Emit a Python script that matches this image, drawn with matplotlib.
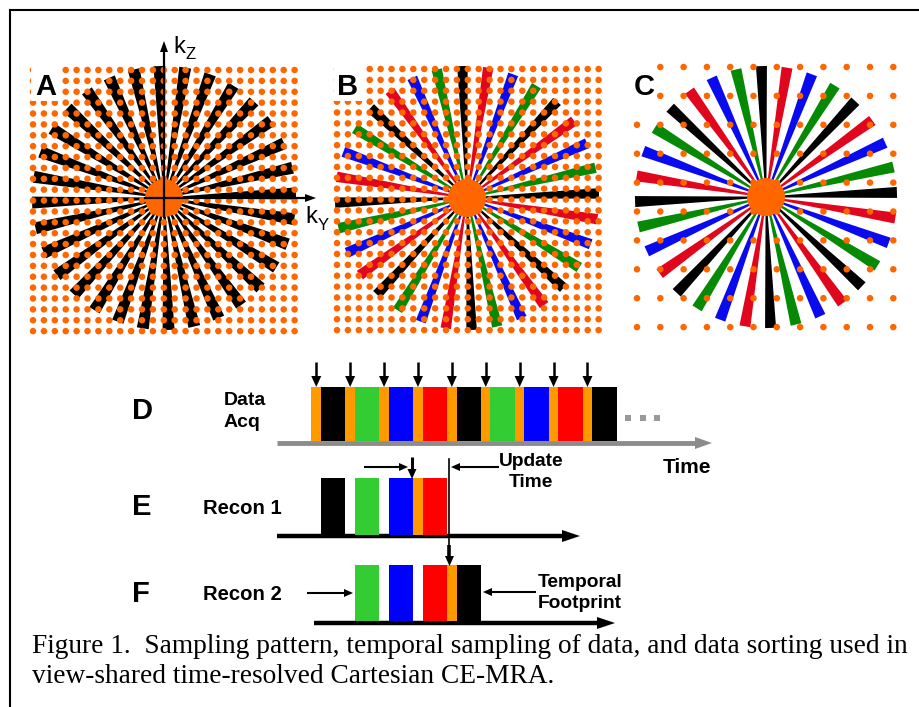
import numpy as np
import matplotlib.pyplot as plt
from matplotlib.patches import Polygon, Circle, Rectangle

W, H = 920, 707

# k-space sampling panels
n_spokes = 32
spoke_phase = 2.0
spoke_cycle = ['black', 'green', 'blue', 'red']
panel_letters = ['A', 'B', 'C']
panel_centers = [(164, 198), (467, 198), (766, 197)]
panel_radius = [132, 132, 131]
panel_spoke_width = [12, 10.5, 11]
panel_multicolor = [False, True, True]
# dot grids: (x0, y0, dx, dy, ncols, nrows)
dot_grids = [(33, 70, 10.9, 10.88, 25, 25),
             (337, 69, 10.9, 10.88, 25, 25),
             (637, 67, 23.3, 28.9, 12, 10)]

# temporal sampling rows
acq_colors = ['black', 'green', 'blue', 'red', 'black', 'green', 'blue', 'red', 'black']
recon1_segments = [0, 1, 2, 3]
recon1_orange = [False, False, False, True]
recon2_segments = [1, 2, 3, 4]
recon2_orange = [False, False, False, True]

caption = ["Figure 1.  Sampling pattern, temporal sampling of data, and data sorting used in",
           "view-shared time-resolved Cartesian CE-MRA."]

ORANGE = '#ff6600'
AMBER = '#ff9900'
spoke_rgb = {'black': '#000000', 'green': '#068a06', 'blue': '#0a0aee', 'red': '#e0061e'}
bar_rgb = {'black': '#000000', 'green': '#33cc33', 'blue': '#0000ff', 'red': '#ff0000'}

fig = plt.figure(figsize=(W / 100, H / 100), dpi=100)
ax = fig.add_axes([0, 0, 1, 1])
ax.set_xlim(0, W)
ax.set_ylim(H, 0)
ax.axis('off')

SANS = 'Liberation Sans'


def spoke(cx, cy, ang, R, w_end, color):
    a = np.deg2rad(ang)
    ux, uy = np.cos(a), -np.sin(a)
    px, py = -uy, ux
    r0, w0 = 3, 0.5
    pts = [(cx + ux * r0 + px * w0, cy + uy * r0 + py * w0),
           (cx + ux * R + px * w_end / 2, cy + uy * R + py * w_end / 2),
           (cx + ux * R - px * w_end / 2, cy + uy * R - py * w_end / 2),
           (cx + ux * r0 - px * w0, cy + uy * r0 - py * w0)]
    ax.add_patch(Polygon(pts, closed=True, fc=color, ec='none', zorder=1))


def arrow(x0, y0, x1, y1, lw=1.8, color='black', hl=10, hw=9, z=6):
    # straight shaft + filled triangular head
    d = np.hypot(x1 - x0, y1 - y0)
    ux, uy = (x1 - x0) / d, (y1 - y0) / d
    bx, by = x1 - ux * hl, y1 - uy * hl
    ax.plot([x0, bx + ux], [y0, by + uy], color=color, lw=lw, solid_capstyle='butt', zorder=z)
    px, py = -uy, ux
    head = [(x1, y1), (bx + px * hw / 2, by + py * hw / 2), (bx - px * hw / 2, by - py * hw / 2)]
    ax.add_patch(Polygon(head, closed=True, fc=color, ec='none', zorder=z))


# ---- panels A, B, C ----
for i in range(3):
    cx, cy = panel_centers[i]
    for k in range(n_spokes):
        col = spoke_rgb[spoke_cycle[k % 4]] if panel_multicolor[i] else 'black'
        spoke(cx, cy, spoke_phase + k * 360 / n_spokes, panel_radius[i], panel_spoke_width[i], col)
    x0, y0, dx, dy, nc, nr = dot_grids[i]
    gx, gy = np.meshgrid(x0 + dx * np.arange(nc), y0 + dy * np.arange(nr))
    ax.scatter(gx.ravel(), gy.ravel(), s=22, c=ORANGE, edgecolors='none', zorder=2)
    ax.add_patch(Circle((cx, cy), 19, fc=ORANGE, ec='none', zorder=3))

# panel labels over white boxes
label_boxes = [(31, 63, 27, 38), (334, 63, 28, 38), (630, 60, 26, 44)]
label_x = [35, 337, 634]
for i in range(3):
    bx, by, bw, bh = label_boxes[i]
    ax.add_patch(Rectangle((bx, by), bw, bh, fc='white', ec='none', zorder=7))
    ax.text(label_x[i], 95, panel_letters[i], fontsize=21, fontweight='bold', family=SANS,
            ha='left', va='baseline', zorder=8)

# k-space axes in A
cx, cy = panel_centers[0]
ax.plot([cx - 19, cx], [cy, cy], color='black', lw=1.6, zorder=4)
ax.plot([cx, cx], [cy + 19, cy], color='black', lw=1.6, zorder=4)
arrow(cx, cy, 316, cy, lw=1.6, hl=11, hw=8, z=4)
arrow(cx, cy, cx, 41, lw=1.6, hl=11, hw=8, z=4)
ax.text(173, 53, 'k', fontsize=17, family=SANS, ha='left', va='baseline', zorder=8)
ax.text(186, 59, 'Z', fontsize=12, family=SANS, ha='left', va='baseline', zorder=8)
ax.text(305, 223, 'k', fontsize=17, family=SANS, ha='left', va='baseline', zorder=8)
ax.text(318, 230, 'Y', fontsize=12, family=SANS, ha='left', va='baseline', zorder=8)

# ---- D / E / F timing rows ----
seg_x0, seg_p, orange_w = 311.5, 33.9, 9.5


def segment(k, top, bottom, with_orange):
    xs = seg_x0 + k * seg_p
    if with_orange:
        ax.add_patch(Rectangle((xs, top), orange_w, bottom - top, fc=AMBER, ec='none', zorder=3))
    ax.add_patch(Rectangle((xs + orange_w, top), seg_p - orange_w, bottom - top,
                           fc=bar_rgb[acq_colors[k]], ec='none', zorder=3))


# D: data acquisition
for k in range(len(acq_colors)):
    segment(k, 387, 441, True)
    xa = seg_x0 + k * seg_p + orange_w / 2
    arrow(xa, 362, xa, 387, lw=1.8, hl=11, hw=10)
arrow(277, 443, 712, 443, lw=3.5, color='#8c8c8c', hl=17, hw=12, z=2)
for xd in [628, 643, 657]:
    ax.add_patch(Rectangle((xd - 3, 415), 6, 6, fc='#999999', ec='none', zorder=3))

# E: recon 1
for k, o in zip(recon1_segments, recon1_orange):
    segment(k, 478, 535, o)
arrow(277, 536, 580, 536, lw=3.2, hl=18, hw=12, z=2)

# F: recon 2
for k, o in zip(recon2_segments, recon2_orange):
    segment(k, 565, 621, o)
arrow(314, 623, 615, 623, lw=3.2, hl=18, hw=12, z=2)

# annotation arrows
arrow(364, 467, 408, 467, lw=1.5, hl=9, hw=8)
arrow(412, 457, 412, 479, lw=2.2, hl=10, hw=9)
ax.plot([449.5, 449.5], [459, 546], color='black', lw=1.2, zorder=6)
arrow(449.5, 545, 449.5, 566, lw=2.6, hl=10, hw=9)
arrow(499, 467, 451, 467, lw=1.5, hl=9, hw=8)
arrow(307, 593, 353, 593, lw=1.5, hl=9, hw=8)
arrow(536, 592, 483, 592, lw=1.5, hl=9, hw=8)

bold = dict(fontweight='bold', family=SANS, ha='left', va='baseline')
boldc = dict(fontweight='bold', family=SANS, ha='center', va='baseline')
for letter, yb in zip(['D', 'E', 'F'], [419, 515, 602]):
    ax.text(132, yb, letter, fontsize=21, **bold)
ax.text(224, 405, 'Data', fontsize=14, **bold)
ax.text(224, 427, 'Acq', fontsize=14, **bold)
ax.text(203, 514, 'Recon 1', fontsize=14.6, **bold)
ax.text(203, 600, 'Recon 2', fontsize=14.6, **bold)
ax.text(663, 473, 'Time', fontsize=15, **bold)
ax.text(531, 466, 'Update', fontsize=13.8, **boldc)
ax.text(531, 487, 'Time', fontsize=13.8, **boldc)
ax.text(580, 587, 'Temporal', fontsize=13.8, **boldc)
ax.text(580, 608, 'Footprint', fontsize=13.8, **boldc)

# caption
ax.text(32, 653, caption[0], fontsize=19.7, family='Liberation Serif', ha='left', va='baseline')
ax.text(32, 683, caption[1], fontsize=19.7, family='Liberation Serif', ha='left', va='baseline')

# frame
ax.plot([10, 10], [10, H], color='black', lw=1.5, solid_capstyle='projecting', zorder=9)
ax.plot([10, W], [10, 10], color='black', lw=1.5, solid_capstyle='projecting', zorder=9)

fig.savefig('out.png', dpi=100)
